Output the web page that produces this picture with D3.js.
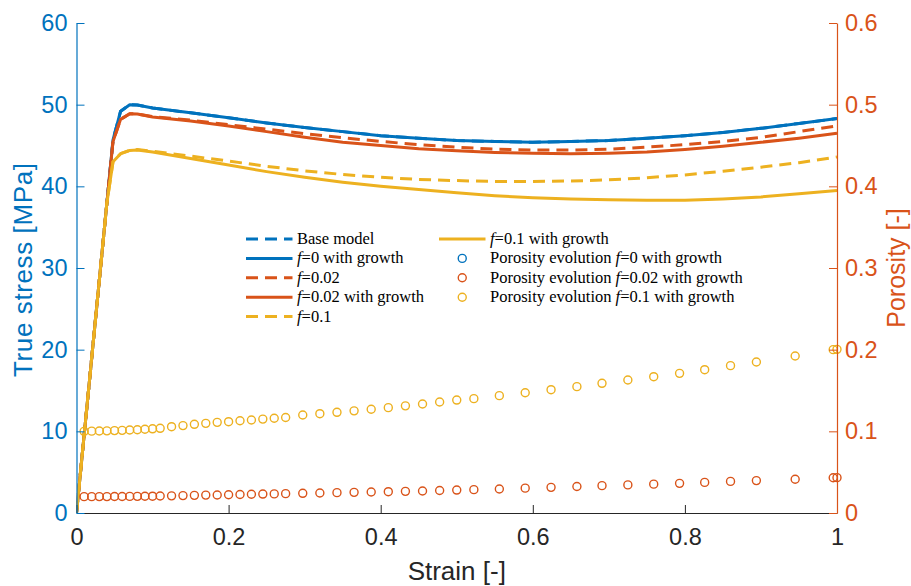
<!DOCTYPE html>
<html>
<head>
<meta charset="utf-8">
<script src="https://cdn.jsdelivr.net/npm/d3@7"></script>
<style>
  html, body { margin: 0; padding: 0; background: #fff; }
  svg { display: block; }
</style>
</head>
<body>
<svg id="chart" width="911" height="586"></svg>
<script>
// Strain grid shared by the stress–strain curves
const strain = [0, 0.01, 0.02, 0.03, 0.04, 0.048, 0.058, 0.07, 0.08, 0.1, 0.15, 0.2, 0.25, 0.3, 0.35, 0.4,
                0.45, 0.5, 0.55, 0.6, 0.65, 0.7, 0.75, 0.8, 0.85, 0.9, 0.95, 1.0];

// True stress [MPa] for each model
const stressBase      = [0, 9.5, 19, 28.5, 38, 45.7, 49.2, 50.0, 49.95, 49.6, 49.0, 48.4, 47.75, 47.2, 46.7, 46.2,
                         45.9, 45.6, 45.5, 45.4, 45.5, 45.6, 45.9, 46.2, 46.6, 47.1, 47.7, 48.3];
const stressF0Growth  = [0, 9.5, 19, 28.5, 38, 45.7, 49.2, 50.0, 49.95, 49.6, 49.0, 48.4, 47.75, 47.2, 46.7, 46.2,
                         45.9, 45.6, 45.5, 45.4, 45.5, 45.6, 45.9, 46.2, 46.6, 47.1, 47.7, 48.3];
const stressF002      = [0, 9.5, 19, 28.5, 38, 45.5, 48.2, 48.9, 48.85, 48.55, 48.1, 47.55, 47.0, 46.45, 45.95, 45.5,
                         45.1, 44.8, 44.55, 44.45, 44.45, 44.55, 44.8, 45.1, 45.5, 46.0, 46.7, 47.4];
const stressF002Growth= [0, 9.5, 19, 28.5, 38, 45.5, 48.2, 48.9, 48.85, 48.5, 48.0, 47.4, 46.7, 46.0, 45.4, 45.0,
                         44.6, 44.35, 44.15, 44.05, 44.0, 44.05, 44.2, 44.5, 44.9, 45.4, 45.9, 46.5];
const stressF01       = [0, 9.5, 19, 28.5, 38, 43.0, 44.0, 44.4, 44.5, 44.3, 43.7, 43.1, 42.45, 41.9, 41.45, 41.1,
                         40.85, 40.7, 40.6, 40.6, 40.65, 40.8, 41.05, 41.4, 41.85, 42.35, 42.9, 43.6];
const stressF01Growth = [0, 9.5, 19, 28.5, 38, 43.0, 44.0, 44.4, 44.45, 44.2, 43.4, 42.6, 41.8, 41.1, 40.5, 40.0,
                         39.6, 39.2, 38.85, 38.6, 38.45, 38.35, 38.3, 38.3, 38.45, 38.7, 39.1, 39.5];

// Strain values at which porosity was sampled
const porosityStrain = [0.01, 0.02, 0.03, 0.04, 0.05, 0.06, 0.07, 0.08, 0.09, 0.10, 0.11,
                        0.125, 0.14, 0.155, 0.17, 0.185, 0.2, 0.215, 0.23, 0.245, 0.26, 0.275,
                        0.2975, 0.32, 0.3425, 0.365, 0.3875, 0.41, 0.4325, 0.455, 0.4775, 0.5,
                        0.5225, 0.556, 0.590, 0.624, 0.658, 0.691, 0.725, 0.759, 0.793, 0.826, 0.860, 0.894, 0.945, 0.995, 1.0];
// Porosity [-]
const porosityF0  = [];
const porosityF002 = [0.0200, 0.0200, 0.0201, 0.0201, 0.0202, 0.0202, 0.0203, 0.0204, 0.0205, 0.0206, 0.0208,
                      0.0210, 0.0213, 0.0216, 0.0219, 0.0221, 0.0224, 0.0227, 0.0229, 0.0232, 0.0234, 0.0237,
                      0.0241, 0.0245, 0.0249, 0.0253, 0.0257, 0.0261, 0.0265, 0.0270, 0.0275, 0.0281,
                      0.0286, 0.0294, 0.0304, 0.0314, 0.0325, 0.0335, 0.0344, 0.0353, 0.0363, 0.0375, 0.0387, 0.0397, 0.0413, 0.0432, 0.0433];
const porosityF01  = [0.1000, 0.1002, 0.1004, 0.1006, 0.1009, 0.1012, 0.1016, 0.1020, 0.1025, 0.1031, 0.1037,
                      0.1057, 0.1070, 0.1086, 0.1098, 0.1110, 0.1118, 0.1130, 0.1139, 0.1150, 0.1160, 0.1170,
                      0.1200, 0.1216, 0.1233, 0.1251, 0.1270, 0.1290, 0.1312, 0.1335, 0.1359, 0.1383,
                      0.1400, 0.1437, 0.1473, 0.1510, 0.1547, 0.1588, 0.1628, 0.1669, 0.1710, 0.1755, 0.1804, 0.1849, 0.1922, 0.2000, 0.2004];

// Tick values
const xTicks = [0, 0.2, 0.4, 0.6, 0.8, 1];
const yLeftTicks = [0, 10, 20, 30, 40, 50, 60];
const yRightTicks = [0, 0.1, 0.2, 0.3, 0.4, 0.5, 0.6];

const BLUE = "#0072BD", ORANGE = "#D95319", YELLOW = "#EDB120", DARK = "#262626";

const svg = d3.select("#chart");
const L = 76.5, R = 837, T = 23, B = 513;

const x = d3.scaleLinear().domain([0, 1]).range([L, R]);
const yL = d3.scaleLinear().domain([0, 60]).range([B, T]);
const yR = d3.scaleLinear().domain([0, 0.6]).range([B, T]);

const tickFont = "Liberation Sans, Arial, Helvetica, sans-serif";

svg.append("defs").append("clipPath").attr("id", "plotclip")
  .append("rect").attr("x", L).attr("y", T - 5).attr("width", R - L + 5).attr("height", B - T + 5);

// Stress curves
const curves = [
  { v: stressBase, color: BLUE, dash: "12,7" },
  { v: stressF0Growth, color: BLUE, dash: null },
  { v: stressF002, color: ORANGE, dash: "12,7" },
  { v: stressF002Growth, color: ORANGE, dash: null },
  { v: stressF01, color: YELLOW, dash: "12,7" },
  { v: stressF01Growth, color: YELLOW, dash: null }
];
const line = d3.line().x(d => x(d[0])).y(d => yL(d[1]));
const gCurves = svg.append("g").attr("clip-path", "url(#plotclip)");
curves.forEach(c => {
  gCurves.append("path")
    .attr("d", line(strain.map((s, i) => [s, c.v[i]])))
    .attr("fill", "none")
    .attr("stroke", c.color)
    .attr("stroke-width", 3)
    .attr("stroke-linejoin", "round")
    .attr("stroke-dasharray", c.dash);
});

// Porosity markers
const markerSets = [
  { v: porosityF0, color: BLUE },
  { v: porosityF002, color: ORANGE },
  { v: porosityF01, color: YELLOW }
];
const gMarks = svg.append("g");
markerSets.forEach(m => {
  gMarks.selectAll(null).data(m.v.map((p, i) => [porosityStrain[i], p])).enter()
    .append("circle")
    .attr("cx", d => x(d[0]))
    .attr("cy", d => yR(d[1]))
    .attr("r", 4)
    .attr("fill", "none")
    .attr("stroke", m.color)
    .attr("stroke-width", 1.4);
});

// Axes
function styleAxis(g, color) {
  g.selectAll("path.domain").attr("stroke", color).attr("stroke-width", 1.2);
  g.selectAll(".tick line").attr("stroke", color).attr("stroke-width", 1);
  g.selectAll(".tick text").attr("fill", color).style("font-family", tickFont).style("font-size", "23.5px");
}
const gx = svg.append("g").attr("transform", `translate(0,${B})`)
  .call(d3.axisBottom(x).tickValues(xTicks).tickFormat(d3.format("~g")).tickSizeInner(-8).tickSizeOuter(0).tickPadding(15));
styleAxis(gx, DARK);

const gyl = svg.append("g").attr("transform", `translate(${L},0)`)
  .call(d3.axisLeft(yL).tickValues(yLeftTicks).tickFormat(d3.format("~g")).tickSizeInner(-8).tickSizeOuter(0).tickPadding(9));
styleAxis(gyl, BLUE);

const gyr = svg.append("g").attr("transform", `translate(${R},0)`)
  .call(d3.axisRight(yR).tickValues(yRightTicks).tickFormat(d3.format("~g")).tickSizeInner(-8).tickSizeOuter(0).tickPadding(8));
styleAxis(gyr, ORANGE);

// Axis titles
svg.append("text").attr("x", (L + R) / 2).attr("y", 580).attr("text-anchor", "middle")
  .style("font-family", tickFont).style("font-size", "26px").attr("fill", DARK).text("Strain [-]");
svg.append("text").attr("transform", `translate(22.5,270) rotate(-90)`)
  .attr("text-anchor", "middle").attr("dominant-baseline", "central")
  .attr("textLength", 214).attr("lengthAdjust", "spacing")
  .style("font-family", tickFont).style("font-size", "26px").attr("fill", BLUE).text("True stress [MPa]");
svg.append("text").attr("transform", `translate(896,${(T + B) / 2}) rotate(-90)`)
  .attr("text-anchor", "middle").attr("dominant-baseline", "central")
  .style("font-family", tickFont).style("font-size", "25px").attr("fill", ORANGE).text("Porosity [-]");

// Legend
const legendFont = "Liberation Serif, Times New Roman, serif";
const legendItems = [
  { col: 0, row: 0, color: BLUE, dash: "12,7", kind: "line", parts: [["Base model", false]] },
  { col: 0, row: 1, color: BLUE, dash: null, kind: "line", parts: [["f", true], ["=0 with growth", false]] },
  { col: 0, row: 2, color: ORANGE, dash: "12,7", kind: "line", parts: [["f", true], ["=0.02", false]] },
  { col: 0, row: 3, color: ORANGE, dash: null, kind: "line", parts: [["f", true], ["=0.02 with growth", false]] },
  { col: 0, row: 4, color: YELLOW, dash: "12,7", kind: "line", parts: [["f", true], ["=0.1", false]] },
  { col: 1, row: 0, color: YELLOW, dash: null, kind: "line", parts: [["f", true], ["=0.1 with growth", false]] },
  { col: 1, row: 1, color: BLUE, kind: "marker", parts: [["Porosity evolution ", false], ["f", true], ["=0 with growth", false]] },
  { col: 1, row: 2, color: ORANGE, kind: "marker", parts: [["Porosity evolution ", false], ["f", true], ["=0.02 with growth", false]] },
  { col: 1, row: 3, color: YELLOW, kind: "marker", parts: [["Porosity evolution ", false], ["f", true], ["=0.1 with growth", false]] }
];
const colX = [246, 439], rowY0 = 239, rowStep = 19.4, sampleLen = 46.5, textGap = 4.5;
const gLeg = svg.append("g");
legendItems.forEach(it => {
  const x0 = colX[it.col], yy = rowY0 + it.row * rowStep;
  if (it.kind === "line") {
    gLeg.append("line").attr("x1", x0).attr("x2", x0 + sampleLen).attr("y1", yy).attr("y2", yy)
      .attr("stroke", it.color).attr("stroke-width", 3).attr("stroke-dasharray", it.dash);
  } else {
    gLeg.append("circle").attr("cx", x0 + sampleLen / 2).attr("cy", yy).attr("r", 4)
      .attr("fill", "none").attr("stroke", it.color).attr("stroke-width", 1.4);
  }
  const t = gLeg.append("text").attr("x", x0 + sampleLen + textGap).attr("y", yy + 5)
    .style("font-family", legendFont).style("font-size", "16.5px").attr("fill", "#000");
  it.parts.forEach(p => {
    t.append("tspan").style("font-style", p[1] ? "italic" : "normal").text(p[0]);
  });
});
</script>
</body>
</html>
